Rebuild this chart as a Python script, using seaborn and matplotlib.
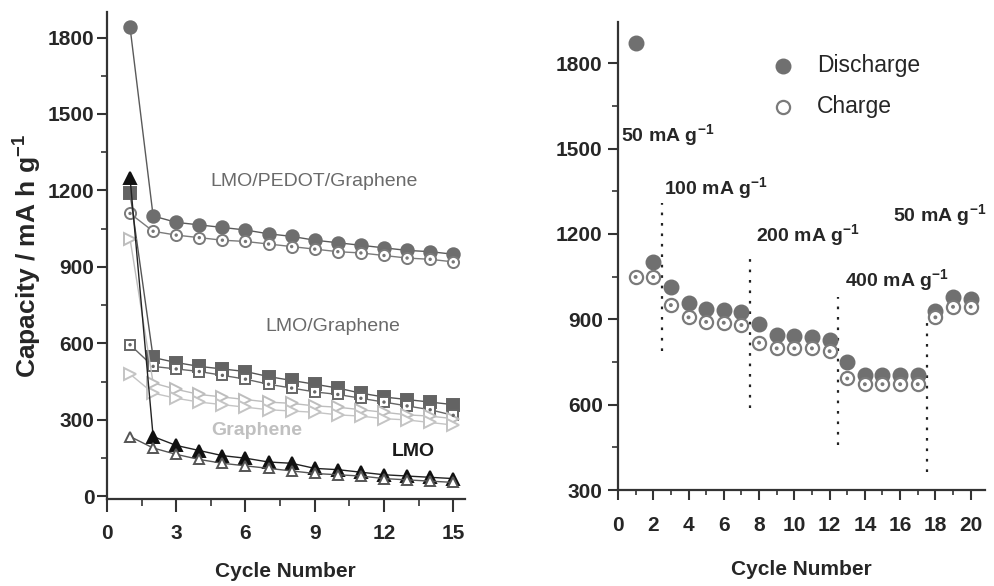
import numpy as np
import pandas as pd
import matplotlib
matplotlib.use("Agg")
import matplotlib.pyplot as plt
from matplotlib.ticker import MultipleLocator
import seaborn as sns

# ---------------- data ----------------
cycles_left = list(range(1, 16))
pedot_dis = [1840, 1100, 1075, 1065, 1055, 1045, 1030, 1020, 1005, 995, 985, 975, 965, 960, 950]
pedot_chg = [1110, 1040, 1025, 1015, 1005, 1000, 990, 980, 970, 960, 955, 945, 935, 930, 920]
lmog_dis = [1190, 545, 525, 510, 500, 490, 470, 455, 440, 425, 405, 390, 380, 370, 360]
lmog_chg = [595, 510, 500, 490, 475, 460, 440, 425, 410, 400, 385, 370, 355, 340, 318]
gra_dis = [1010, 445, 420, 400, 390, 380, 370, 365, 355, 350, 340, 330, 320, 315, 305]
gra_chg = [480, 405, 385, 370, 360, 350, 340, 335, 330, 320, 315, 305, 300, 290, 280]
lmo_dis = [1250, 235, 200, 180, 160, 150, 135, 130, 110, 105, 95, 85, 80, 75, 70]
lmo_chg = [235, 190, 165, 145, 130, 120, 110, 100, 90, 85, 80, 70, 65, 60, 55]

cycles_right = list(range(1, 21))
rate_dis = [1872, 1102, 1014, 956, 938, 932, 926, 882, 844, 841, 838, 829, 751, 704, 704, 704, 704, 930, 979, 973]
rate_chg = [1049, 1049, 950, 907, 891, 888, 880, 818, 798, 798, 798, 788, 692, 672, 672, 672, 672, 907, 944, 944]

rate_labels = ["50 mA g$^{-1}$", "100 mA g$^{-1}$", "200 mA g$^{-1}$", "400 mA g$^{-1}$", "50 mA g$^{-1}$"]
rate_label_x = [0.2, 2.6, 7.8, 12.9, 15.6]
rate_label_y = [1547, 1361, 1196, 1038, 1266]
divider_x = [2.5, 7.5, 12.5, 17.5]
divider_lo = [790, 588, 458, 364]
divider_hi = [1310, 1115, 979, 887]

# ---------------- style ----------------
sns.set_style("ticks")
FONT = ['Liberation Sans', 'DejaVu Sans']
plt.rcParams['font.family'] = FONT
TXT = '#262626'
plt.rcParams['text.color'] = TXT
plt.rcParams['axes.labelcolor'] = TXT
plt.rcParams['xtick.color'] = TXT
plt.rcParams['ytick.color'] = TXT
plt.rcParams['mathtext.fontset'] = 'custom'
plt.rcParams['mathtext.rm'] = 'Liberation Sans:bold'
plt.rcParams['mathtext.it'] = 'Liberation Sans:bold'
plt.rcParams['mathtext.bf'] = 'Liberation Sans:bold'

fig = plt.figure(figsize=(9.94, 5.86), dpi=100)
axL = fig.add_axes([0.1076, 0.1485, 0.360, 0.831])
axR = fig.add_axes([0.6217, 0.1638, 0.369, 0.7986])

def style_axes(ax, xlen, xpad, ylen, ypad):
    for s in ['top', 'right']:
        ax.spines[s].set_visible(False)
    for s in ['left', 'bottom']:
        ax.spines[s].set_linewidth(1.6)
        ax.spines[s].set_color('#333333')
    ax.tick_params(axis='x', which='major', length=xlen, width=1.5, pad=xpad, labelsize=15, color='#333333')
    ax.tick_params(axis='x', which='minor', length=xlen * 0.55, width=1.2, color='#333333')
    ax.tick_params(axis='y', which='major', length=ylen, width=1.5, pad=ypad, labelsize=15, color='#333333')
    ax.tick_params(axis='y', which='minor', length=ylen * 0.6, width=1.2, color='#333333')
    for lab in ax.get_xticklabels() + ax.get_yticklabels():
        lab.set_fontweight('bold')

# ---------------- left panel ----------------
series = [
    (pedot_dis, 'o', '#6e6e6e', '#6e6e6e', '#5a5a5a', 9),
    (pedot_chg, 'o', 'white', '#7a7a7a', '#7a7a7a', 8),
    (lmog_dis, 's', '#636363', '#636363', '#555555', 8),
    (lmog_chg, 's', 'white', '#666666', '#666666', 7),
    (gra_dis, '>', 'white', '#bdbdbd', '#bdbdbd', 8),
    (gra_chg, '>', 'white', '#c4c4c4', '#c4c4c4', 8),
    (lmo_dis, '^', '#111111', '#111111', '#222222', 8),
    (lmo_chg, '^', 'white', '#555555', '#555555', 7),
]
for vals, m, fc, ec, lc, ms in series:
    sns.lineplot(x=cycles_left, y=vals, ax=axL, color=lc, linewidth=1.0,
                 marker=m, markersize=ms, markerfacecolor=fc, markeredgecolor=ec,
                 markeredgewidth=1.4)
sns.scatterplot(x=cycles_left, y=pedot_chg, ax=axL, s=6, color='#777777', edgecolor='none', zorder=5)
sns.scatterplot(x=cycles_left, y=lmog_chg, ax=axL, s=6, color='#666666', edgecolor='none', zorder=5)

axL.set_xlim(0, 15.5)
axL.set_ylim(-10, 1900)
axL.xaxis.set_major_locator(MultipleLocator(3))
axL.xaxis.set_minor_locator(MultipleLocator(1.5))
axL.yaxis.set_major_locator(MultipleLocator(300))
axL.yaxis.set_minor_locator(MultipleLocator(150))
axL.set_xlabel("Cycle Number", fontsize=15, fontweight='bold', labelpad=14)
axL.set_ylabel("Capacity / mA h g$^{-1}$", fontsize=19, fontweight='bold', labelpad=3)

axL.text(8.97, 1236, "LMO/PEDOT/Graphene", fontsize=14, color='#6a6a6a', ha='center', va='center')
axL.text(9.8, 668, "LMO/Graphene", fontsize=14, color='#6a6a6a', ha='center', va='center')
axL.text(6.5, 259, "Graphene", fontsize=14, color='#c0c0c0', ha='center', va='center', fontweight='bold')
axL.text(13.25, 177, "LMO", fontsize=14, color='#1a1a1a', ha='center', va='center', fontweight='bold')
style_axes(axL, 9, 9, 7, 2)

# ---------------- right panel ----------------
sns.scatterplot(x=cycles_right, y=rate_dis, ax=axR, s=110, color='#707070', edgecolor='#707070',
                linewidth=1, label='Discharge', zorder=3)
sns.scatterplot(x=cycles_right, y=rate_chg, ax=axR, s=90, color='white', edgecolor='#7a7a7a',
                linewidth=1.6, label='Charge', zorder=4)
sns.scatterplot(x=cycles_right, y=rate_chg, ax=axR, s=8, color='#7a7a7a', edgecolor='none', zorder=5)

for xv, lo, hi in zip(divider_x, divider_lo, divider_hi):
    axR.vlines(xv, lo, hi, colors='#222222', linestyles=(0, (1.2, 3.5)), linewidth=1.6)

for t, xv, yv in zip(rate_labels, rate_label_x, rate_label_y):
    axR.text(xv, yv, t, fontsize=14, fontweight='bold', ha='left', va='center', color=TXT)

axR.set_xlim(0, 20.8)
axR.set_ylim(300, 1945)
axR.xaxis.set_major_locator(MultipleLocator(2))
axR.xaxis.set_minor_locator(MultipleLocator(1))
axR.yaxis.set_major_locator(MultipleLocator(300))
axR.yaxis.set_minor_locator(MultipleLocator(150))
axR.set_xlabel("Cycle Number", fontsize=15, fontweight='bold', labelpad=18)
axR.set_ylabel("")
leg = axR.legend(loc='upper left', bbox_to_anchor=(0.33, 0.975), frameon=False,
                 handletextpad=0.5, labelspacing=0.75,
                 prop={'family': ['Liberation Sans', 'DejaVu Sans'], 'size': 16.5})
style_axes(axR, 7, 12, 7, 4)

fig.savefig("out.png", dpi=100)
